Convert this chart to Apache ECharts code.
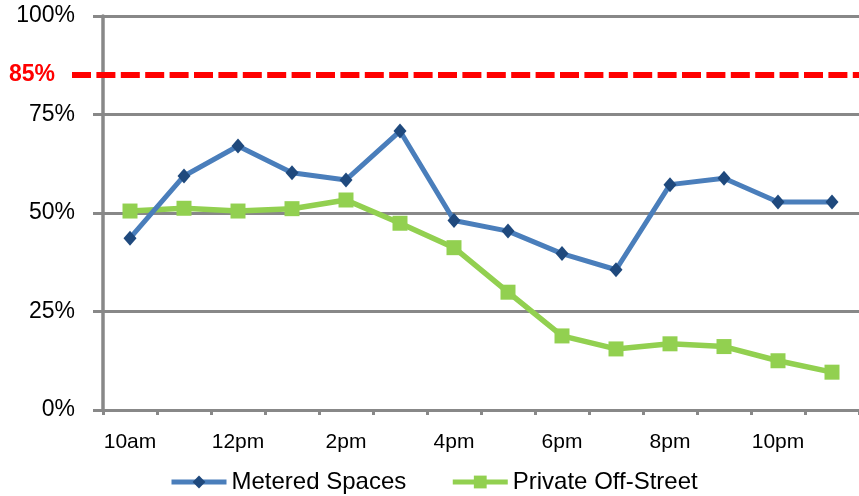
<!DOCTYPE html>
<html>
<head>
<meta charset="utf-8">
<title>Parking occupancy by hour</title>
<script src="https://cdn.jsdelivr.net/npm/echarts@6/dist/echarts.min.js"></script>
<style>
  html, body { margin: 0; padding: 0; background: #fff; }
  #chart { width: 859px; height: 496px; }
</style>
</head>
<body>
<div id="chart"></div>
<script>
// Hourly categories, 10am through 11pm
const hours = ['10am', '11am', '12pm', '1pm', '2pm', '3pm', '4pm', '5pm', '6pm', '7pm', '8pm', '9pm', '10pm', '11pm'];

// Occupancy (%) for each hour
const meteredSpaces = [43.6, 59.4, 67.0, 60.2, 58.4, 70.8, 48.1, 45.4, 39.7, 35.6, 57.2, 58.8, 52.8, 52.8];
const privateOffStreet = [50.5, 51.2, 50.5, 51.1, 53.3, 47.4, 41.2, 29.9, 18.8, 15.5, 16.8, 16.1, 12.5, 9.6];

// Target occupancy threshold
const targetOccupancy = 85;

// Y axis ticks
const yTicks = [0, 25, 50, 75, 100];

const gridGrey = '#888888';
const labelFont = '"Liberation Sans", Arial, sans-serif';

const chart = echarts.init(document.getElementById('chart'), null, { renderer: 'canvas' });

chart.setOption({
  animation: false,
  backgroundColor: '#fff',
  grid: { left: 103, right: 0, top: 16, bottom: 86, containLabel: false },
  legend: {
    left: 164,
    top: 465,
    itemWidth: 55,
    itemHeight: 16,
    itemGap: 44,
    lineStyle: { width: 5 },
    textStyle: { fontFamily: labelFont, fontSize: 24, color: '#000' },
    data: ['Metered Spaces', 'Private Off-Street']
  },
  xAxis: {
    type: 'category',
    data: hours,
    boundaryGap: true,
    axisLine: { show: true, lineStyle: { color: gridGrey, width: 3 } },
    axisTick: { show: true, interval: 0, length: 5, lineStyle: { color: gridGrey, width: 3 } },
    axisLabel: {
      interval: 1,
      margin: 22,
      fontFamily: labelFont,
      fontSize: 21,
      color: '#000'
    },
    splitLine: { show: false }
  },
  yAxis: {
    type: 'value',
    min: yTicks[0],
    max: yTicks[yTicks.length - 1],
    interval: 25,
    axisLine: { show: true, lineStyle: { color: gridGrey, width: 3.5 } },
    axisTick: { show: true, length: 10, lineStyle: { color: gridGrey, width: 3 } },
    axisLabel: {
      margin: 28,
      fontFamily: labelFont,
      fontSize: 23,
      color: '#000',
      formatter: v => v + '%'
    },
    splitLine: { show: true, lineStyle: { color: gridGrey, width: 3 } }
  },
  series: [
    {
      name: 'Metered Spaces',
      type: 'line',
      z: 3,
      data: meteredSpaces,
      symbol: 'diamond',
      symbolSize: [13, 15],
      lineStyle: { color: '#4a7ebb', width: 5 },
      itemStyle: { color: '#1f497d', borderWidth: 0 },
      emphasis: { disabled: true }
    },
    {
      name: 'Private Off-Street',
      type: 'line',
      z: 2,
      data: privateOffStreet,
      symbol: 'rect',
      symbolSize: 15,
      lineStyle: { color: '#92d050', width: 5.5 },
      itemStyle: { color: '#92d050', borderWidth: 0 },
      emphasis: { disabled: true },
      markLine: {
        silent: true,
        symbol: ['none', 'none'],
        animation: false,
        lineStyle: { color: '#ff0000', width: 6, type: [19, 5.4], opacity: 1 },
        label: {
          show: true,
          position: 'start',
          distance: 17,
          formatter: targetOccupancy + '%',
          color: '#ff0000',
          fontFamily: labelFont,
          fontWeight: 'bold',
          fontSize: 23
        },
        data: [
          [
            { yAxis: targetOccupancy, x: 72 },
            { yAxis: targetOccupancy, x: 859 }
          ]
        ]
      }
    }
  ]
});
</script>
</body>
</html>
